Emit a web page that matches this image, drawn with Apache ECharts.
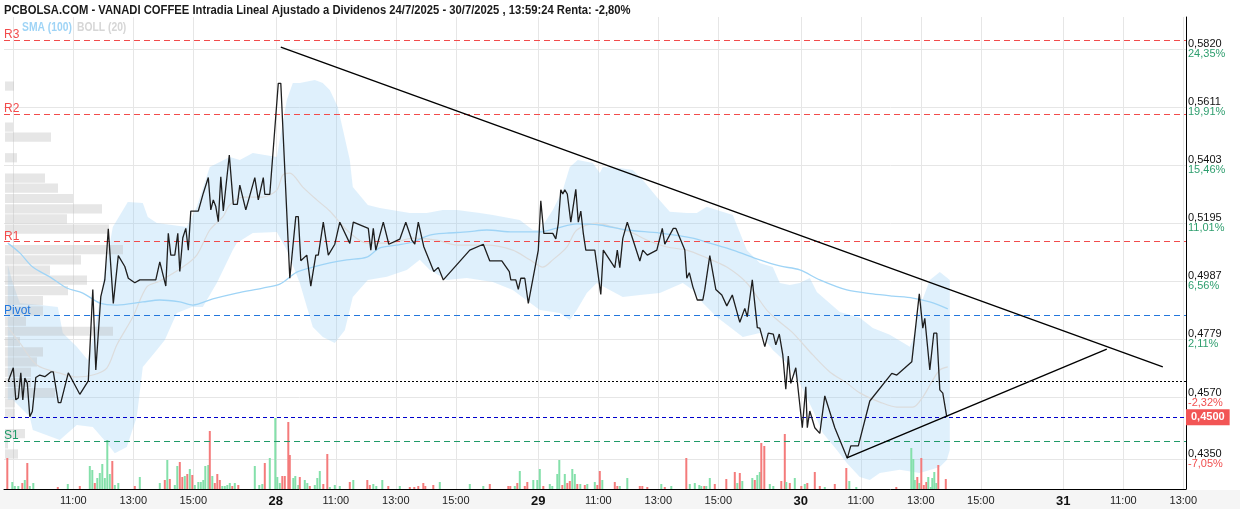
<!DOCTYPE html>
<html><head><meta charset="utf-8">
<script src="https://cdn.jsdelivr.net/npm/echarts@6/dist/echarts.min.js"></script>
<style>html,body{margin:0;padding:0;background:#fff}#c{width:1240px;height:512px}</style>
</head><body><div id="c"></div>
<script>
const FONT = '"Liberation Sans", Arial, sans-serif';
const TITLE = 'PCBOLSA.COM - VANADI COFFEE Intradia Lineal Ajustado a Dividenos 24/7/2025 - 30/7/2025 , 13:59:24 Renta: -2,80%';

// x = trading minutes since 25/7 09:00 (each session 09:00-17:45 = 525 min)
const xTickValues = [0,120,240,360,525,645,765,885,1050,1170,1290,1410,1575,1695,1815,1935,2100,2220,2340];
const xTickLabels = ['','11:00','13:00','15:00','28','11:00','13:00','15:00','29','11:00','13:00','15:00','30','11:00','13:00','15:00','31','11:00','13:00'];
const yTickValues = [0.4350,0.4570,0.4779,0.4987,0.5195,0.5403,0.5611,0.5820];
const yTickLabels = ['0,4350','0,4570','0,4779','0,4987','0,5195','0,5403','0,5611','0,5820'];
const yTickPct = ['-7,05%','-2,32%','2,11%','6,56%','11,01%','15,46%','19,91%','24,35%'];

const levels = {R3:0.5852, R2:0.5587, R1:0.5129, Pivot:0.4865, S1:0.4414};
const prevClose = 0.4629;
const lastPrice = 0.4500;

const price = [[-10,0.4630],[0,0.4677],[5,0.4562],[10,0.4569],[15,0.4659],[19,0.4562],[23,0.4640],[28,0.4622],[33,0.4502],[38,0.4520],
[45,0.4642],[53,0.4651],[63,0.4645],[75,0.4662],[80,0.4662],[90,0.4552],[95,0.4552],[110,0.4659],[133,0.4582],[150,0.4630],
[159,0.4958],[165,0.4669],[175,0.4932],[183,0.4992],[190,0.5175],[194,0.5175],[200,0.4908],[210,0.5079],[223,0.5040],[230,0.4998],
[243,0.4982],[253,0.4992],[285,0.4992],[293,0.5057],[305,0.4970],[310,0.5159],[315,0.5081],[323,0.5081],[329,0.5159],[333,0.5022],
[339,0.5143],[345,0.5177],[350,0.5099],[355,0.5239],[370,0.5239],[380,0.5303],[390,0.5359],[395,0.5243],[400,0.5279],[405,0.5255],
[410,0.5201],[415,0.5362],[420,0.5239],[432,0.5440],[440,0.5263],[448,0.5263],[453,0.5332],[465,0.5243],[483,0.5359],[490,0.5279],
[500,0.5359],[503,0.5299],[513,0.5299],[530,0.5697],[535,0.5697],[553,0.4998],[565,0.5219],[570,0.5219],[575,0.5061],[587,0.5081],
[590,0.5081],[595,0.4970],[605,0.5081],[610,0.5081],[620,0.5199],[630,0.5081],[643,0.5120],[653,0.5199],[673,0.5123],[680,0.5199],
[710,0.5177],[715,0.5099],[720,0.5177],[725,0.5099],[740,0.5199],[751,0.5120],[773,0.5138],[785,0.5199],[797,0.5135],[803,0.5120],
[810,0.5199],[821,0.5111],[841,0.5022],[850,0.5037],[860,0.4992],[913,0.5099],[940,0.5120],[953,0.5060],[977,0.5060],[992,0.5022],
[995,0.4992],[1005,0.4992],[1010,0.4958],[1015,0.4998],[1023,0.4998],[1030,0.4908],[1050,0.5099],[1055,0.5276],[1061,0.5159],[1079,0.5159],
[1085,0.5139],[1090,0.5195],[1095,0.5315],[1099,0.5300],[1103,0.5315],[1108,0.5300],[1115,0.5199],[1125,0.5317],[1130,0.5199],[1135,0.5239],
[1140,0.5159],[1145,0.5099],[1163,0.5099],[1175,0.4940],[1180,0.5099],[1203,0.5036],[1208,0.5099],[1213,0.5036],[1219,0.5141],[1228,0.5199],
[1253,0.5060],[1259,0.5099],[1268,0.5081],[1287,0.5099],[1298,0.5177],[1303,0.5120],[1320,0.5177],[1325,0.5177],[1343,0.5099],[1347,0.4998],
[1352,0.5018],[1359,0.4968],[1368,0.4920],[1379,0.4920],[1383,0.4958],[1393,0.5079],[1405,0.4958],[1417,0.4938],[1427,0.4899],[1438,0.4938],
[1453,0.4840],[1463,0.4890],[1468,0.4860],[1478,0.4992],[1488,0.4821],[1493,0.4819],[1503,0.4753],[1510,0.4801],[1520,0.4798],[1525,0.4759],
[1532,0.4798],[1539,0.4723],[1545,0.4600],[1550,0.4719],[1555,0.4621],[1565,0.4677],[1578,0.4462],[1585,0.4609],[1588,0.4462],[1593,0.4522],
[1603,0.4462],[1613,0.4442],[1623,0.4576],[1643,0.4462],[1668,0.4353],[1675,0.4397],[1690,0.4397],[1713,0.4558],[1757,0.4657],[1767,0.4651],
[1797,0.4699],[1812,0.4942],[1819,0.4819],[1823,0.4854],[1833,0.4669],[1841,0.4801],[1847,0.4801],[1853,0.4598],[1859,0.4586],[1867,0.4500]];

const sma100 = [[-11,0.5124],[13,0.5089],[39,0.5038],[73,0.5003],[107,0.4963],[139,0.4945],[173,0.4909],[207,0.4902],[259,0.4913],[293,0.4920],
[333,0.4913],[359,0.4902],[399,0.4924],[447,0.4945],[499,0.4963],[533,0.4977],[567,0.5020],[599,0.5038],[633,0.5053],[667,0.5064],
[707,0.5074],[733,0.5107],[767,0.5117],[799,0.5128],[833,0.5153],[867,0.5160],[907,0.5164],[947,0.5171],[999,0.5164],[1053,0.5164],
[1087,0.5178],[1127,0.5193],[1173,0.5189],[1227,0.5171],[1293,0.5160],[1359,0.5142],[1393,0.5124],[1439,0.5099],[1493,0.5064],[1533,0.5042],
[1573,0.5028],[1613,0.4992],[1667,0.4956],[1719,0.4942],[1759,0.4934],[1799,0.4927],[1833,0.4913],[1869,0.4888]];

const bollMid = [[-11,0.4823],[13,0.4766],[47,0.4687],[93,0.4658],[127,0.4644],[159,0.4651],[187,0.4676],[207,0.4759],[239,0.4859],[267,0.4967],
[293,0.4988],[339,0.5038],[367,0.5081],[393,0.5171],[419,0.5218],[433,0.5261],[459,0.5289],[499,0.5289],[527,0.5314],[539,0.5368],
[553,0.5375],[579,0.5325],[607,0.5279],[633,0.5239],[667,0.5171],[707,0.5124],[753,0.5124],[799,0.5142],[847,0.5135],[887,0.5117],
[947,0.5117],[999,0.5099],[1033,0.5064],[1059,0.5038],[1079,0.5064],[1107,0.5110],[1127,0.5171],[1167,0.5196],[1199,0.5182],[1239,0.5160],
[1267,0.5135],[1307,0.5110],[1347,0.5099],[1387,0.5071],[1427,0.5038],[1467,0.4981],[1507,0.4884],[1533,0.4841],[1559,0.4802],[1599,0.4723],
[1633,0.4662],[1667,0.4622],[1693,0.4587],[1733,0.4554],[1767,0.4536],[1799,0.4536],[1819,0.4572],[1839,0.4633],[1853,0.4669],[1869,0.4680]];

const bollUpper = [[-11,0.5046],[-1,0.4981],[13,0.4909],[53,0.4902],[89,0.4895],[99,0.4802],[127,0.4752],[149,0.4705],[163,0.4812],[179,0.4981],
[199,0.5182],[229,0.5271],[259,0.5268],[269,0.5218],[287,0.5196],[347,0.5182],[367,0.5254],[393,0.5397],[433,0.5433],[453,0.5422],
[479,0.5447],[527,0.5433],[547,0.5637],[559,0.5698],[573,0.5698],[603,0.5709],[619,0.5698],[633,0.5673],[649,0.5612],[673,0.5422],
[679,0.5325],[709,0.5261],[733,0.5250],[793,0.5232],[827,0.5232],[859,0.5243],[887,0.5243],[933,0.5232],[959,0.5225],[1013,0.5207],
[1039,0.5171],[1053,0.5171],[1079,0.5243],[1099,0.5314],[1113,0.5397],[1129,0.5422],[1159,0.5411],[1173,0.5375],[1179,0.5397],[1213,0.5393],
[1239,0.5386],[1259,0.5350],[1287,0.5289],[1313,0.5236],[1347,0.5232],[1367,0.5232],[1387,0.5254],[1407,0.5243],[1439,0.5225],[1467,0.5099],
[1493,0.5053],[1519,0.5038],[1533,0.4981],[1553,0.4974],[1573,0.4981],[1593,0.4999],[1607,0.4949],[1653,0.4877],[1693,0.4856],[1719,0.4820],
[1753,0.4795],[1793,0.4752],[1799,0.4777],[1813,0.4895],[1833,0.4992],[1853,0.5020],[1873,0.4992]];

const bollLower = [[-11,0.4562],[-1,0.4562],[33,0.4501],[39,0.4454],[93,0.4418],[127,0.4472],[159,0.4465],[187,0.4407],[203,0.4371],[227,0.4393],
[247,0.4501],[259,0.4680],[287,0.4741],[303,0.4777],[327,0.4873],[357,0.4895],[379,0.4895],[407,0.4981],[439,0.5099],[447,0.5124],
[479,0.5160],[527,0.5164],[547,0.5099],[573,0.4981],[599,0.4823],[619,0.4787],[643,0.4766],[663,0.4812],[679,0.4931],[709,0.4992],
[747,0.5003],[787,0.5028],[813,0.5064],[833,0.5028],[867,0.4992],[907,0.4999],[959,0.4985],[999,0.4956],[1053,0.4884],[1093,0.4873],
[1113,0.4848],[1127,0.4884],[1147,0.4945],[1167,0.4981],[1193,0.4956],[1219,0.4931],[1253,0.4938],[1293,0.4945],[1339,0.4981],[1359,0.4956],
[1379,0.4909],[1407,0.4859],[1433,0.4823],[1459,0.4787],[1493,0.4802],[1519,0.4741],[1547,0.4694],[1573,0.4622],[1599,0.4526],[1619,0.4443],
[1647,0.4382],[1667,0.4336],[1693,0.4285],[1713,0.4275],[1733,0.4300],[1773,0.4311],[1813,0.4300],[1853,0.4321],[1867,0.4346],[1873,0.4382]];

// [time, volume, direction (1 up / -1 down)]
const volumeBars = [[-12,31,-1],[-2,7,1],[3,3,1],[10,3,1],[18,6,-1],[23,9,1],[28,26,-1],[33,3,1],[40,6,1],[89,2,-1],[109,5,1],[133,3,-1],
[153,23,1],[158,19,1],[163,6,-1],[168,11,1],[173,16,1],[178,25,1],[183,11,1],[188,49,1],[193,15,1],[198,28,-1],[203,4,1],[210,6,1],
[243,3,-1],[253,12,1],[293,6,1],[303,9,-1],[308,29,1],[313,10,-1],[323,4,1],[328,23,1],[333,27,-1],[338,12,-1],[343,13,1],[348,15,-1],
[353,20,1],[358,14,-1],[363,4,1],[370,7,1],[375,7,1],[380,9,1],[384,23,1],[390,24,1],[393,58,-1],[398,13,1],[403,6,-1],[408,15,-1],
[413,9,-1],[418,3,1],[423,3,1],[428,4,1],[433,6,1],[438,3,-1],[443,6,1],[450,4,-1],[483,23,1],[492,4,1],[498,5,1],[503,26,-1],
[513,31,1],[524,71,1],[528,12,1],[533,6,1],[538,13,-1],[543,13,-1],[550,67,-1],[553,34,-1],[560,11,1],[564,13,1],[570,4,1],[573,12,-1],
[583,9,1],[588,6,1],[593,3,-1],[603,4,1],[608,11,1],[613,18,1],[620,5,-1],[628,35,-1],[633,2,1],[643,4,1],[653,3,1],[673,7,-1],
[680,9,1],[708,9,-1],[713,4,-1],[720,5,1],[726,3,1],[738,9,1],[750,3,-1],[773,3,1],[793,2,-1],[802,2,-1],[810,3,-1],[820,6,-1],
[824,3,-1],[840,4,-1],[853,7,1],[913,5,1],[940,3,1],[953,5,-1],[990,3,-1],[994,3,-1],[1003,3,1],[1008,6,-1],[1013,18,1],[1023,3,-1],
[1028,7,-1],[1040,9,1],[1048,9,1],[1053,20,1],[1060,3,-1],[1073,5,1],[1078,3,1],[1088,15,1],[1092,29,1],[1098,4,-1],[1103,15,1],[1108,6,-1],
[1113,8,-1],[1118,20,1],[1123,15,1],[1128,5,-1],[1134,5,1],[1143,4,-1],[1148,5,1],[1163,7,1],[1168,4,-1],[1173,18,-1],[1178,9,1],[1203,7,-1],
[1208,3,-1],[1213,3,1],[1228,11,1],[1253,3,-1],[1258,3,-1],[1268,2,-1],[1296,5,1],[1303,2,-1],[1316,3,1],[1346,31,-1],[1353,5,1],[1363,6,1],
[1372,4,1],[1376,3,1],[1382,3,-1],[1386,3,1],[1393,11,1],[1403,5,-1],[1426,10,-1],[1443,17,-1],[1448,6,1],[1453,16,-1],[1458,8,1],[1478,11,1],
[1483,9,-1],[1488,14,1],[1493,17,1],[1496,46,-1],[1502,43,-1],[1513,5,1],[1520,3,1],[1536,8,-1],[1543,55,-1],[1546,7,1],[1553,6,-1],[1563,11,1],
[1576,3,-1],[1583,5,1],[1588,6,-1],[1603,17,-1],[1613,3,-1],[1623,2,1],[1643,5,-1],[1666,21,-1],[1672,8,1],[1686,2,1],[1766,2,-1],[1796,41,1],
[1800,30,1],[1803,9,1],[1808,12,-1],[1812,6,1],[1816,31,-1],[1821,4,-1],[1826,7,-1],[1830,12,1],[1835,2,1],[1838,11,1],[1842,17,1],[1846,6,1],
[1850,24,-1],[1865,10,-1]];

// volume-by-price profile: [bin centre price, relative volume]
const profile = [[0.5687,9],[0.5540,8],[0.5504,46],[0.5430,12],[0.5357,40],[0.5321,53],[0.5284,68],[0.5247,97],[0.5211,62],[0.5174,104],
[0.5101,118],[0.5064,76],[0.5027,45],[0.4991,82],[0.4954,63],[0.4918,38],[0.4881,38],[0.4844,21],[0.4808,108],[0.4771,15],
[0.4734,38],[0.4698,32],[0.4661,26],[0.4624,26],[0.4588,50],[0.4551,10],[0.4514,10],[0.4441,20],[0.4404,3],[0.4368,13]];
const PROFILE_STEP = 0.003664;

const trendUpper = [[535,0.5827],[2299,0.4680]];
const trendLower = [[1667,0.4354],[2187,0.4744]];

const chart = echarts.init(document.getElementById('c'), null, {renderer:'canvas'});

function ml(val, color, dash, name){
  return {yAxis:val, lineStyle:{color:color, type:dash, width:1, opacity:1},
    label: name ? {show:true, position:'insideStartTop', formatter:name, color:color, fontSize:12, fontFamily:FONT, distance:[0,-1]} : {show:false}};
}

const option = {
  animation:false,
  backgroundColor:'#fff',
  grid:[
    {left:4, right:54, top:17, bottom:23},
    {left:4, right:54, height:100, bottom:23}
  ],
  xAxis:[
    {type:'value', gridIndex:0, min:-18.6, max:2345.4,
     axisLine:{show:true, onZero:false, lineStyle:{color:'#000', width:1}},
     axisTick:{show:false, customValues:xTickValues},
     splitLine:{show:true, lineStyle:{color:'#e6e6e6', width:1}},
     axisLabel:{customValues:xTickValues.slice(1), margin:6, color:'#222', fontSize:11, fontFamily:FONT,
       formatter:function(v){
         const i = xTickValues.indexOf(v);
         const s = i>=0 ? xTickLabels[i] : '';
         return s.indexOf(':')<0 && s ? '{d|'+s+'}' : s;
       },
       rich:{d:{fontSize:13, fontWeight:'bold', color:'#111', fontFamily:FONT}}}
    },
    {type:'value', gridIndex:1, min:-18.6, max:2345.4, show:false, splitLine:{show:false}},
    {type:'value', gridIndex:0, min:0, max:1182, show:false, splitLine:{show:false}}
  ],
  yAxis:[
    {type:'value', gridIndex:0, position:'right', min:0.42424, max:0.59347,
     axisLine:{show:true, onZero:false, lineStyle:{color:'#000', width:1}},
     axisTick:{show:false, customValues:yTickValues},
     splitLine:{show:true, lineStyle:{color:'#e6e6e6', width:1}},
     axisLabel:{customValues:yTickValues, margin:2, fontFamily:FONT,
       formatter:function(v){
         let i = yTickValues.findIndex(x=>Math.abs(x-v)<1e-7);
         if(i<0) return '';
         const neg = yTickPct[i].charAt(0)==='-';
         return '{p|'+yTickLabels[i]+'}\n{'+(neg?'r':'g')+'|'+yTickPct[i]+'}';
       },
       rich:{p:{fontSize:11, color:'#111', lineHeight:10, fontFamily:FONT},
             g:{fontSize:11, color:'#2e9e6e', lineHeight:10, fontFamily:FONT},
             r:{fontSize:11, color:'#f05050', lineHeight:10, fontFamily:FONT}}}
    },
    {type:'value', gridIndex:1, min:0, max:100, show:false, splitLine:{show:false}}
  ],
  graphic:[
    {type:'rect', z:-1, shape:{x:0, y:490, width:1240, height:19}, style:{fill:'#f5f5f5'}},
    {type:'text', x:4, y:4, scaleX:0.865, style:{text:TITLE, fill:'#1a1a1a', font:'bold 13px '+FONT}},
    {type:'text', x:22, y:22, scaleX:0.86, style:{text:'SMA (100)', fill:'#9fd4f6', font:'bold 12px '+FONT}},
    {type:'text', x:77, y:22, scaleX:0.86, style:{text:'BOLL (20)', fill:'#d6d6d6', font:'bold 12px '+FONT}}
  ],
  series:[
    {type:'custom', name:'bollBand', xAxisIndex:0, yAxisIndex:0, z:1, silent:true,
     data:[[bollUpper[0][0], bollUpper[0][1]]],
     renderItem:function(params, api){
       if(params.dataIndex!==0) return null;
       const pts = bollUpper.map(p=>api.coord(p)).concat(bollLower.slice().reverse().map(p=>api.coord(p)));
       return {type:'polygon', shape:{points:pts}, style:{fill:'rgba(150,205,245,0.30)'}};
     }},
    {type:'custom', name:'profile', xAxisIndex:2, yAxisIndex:0, z:2, silent:true,
     data:profile.map(p=>[p[1], p[0]]),
     renderItem:function(params, api){
       const vol = api.value(0), pr = api.value(1);
       const a = api.coord([0, pr + PROFILE_STEP/2]);
       const b = api.coord([vol, pr - PROFILE_STEP/2]);
       return {type:'rect', shape:{x:a[0]+1, y:a[1]+0.5, width:b[0]-a[0], height:b[1]-a[1]-1}, style:{fill:'rgba(185,185,185,0.36)'}};
     }},
    {type:'line', name:'BOLL mid', xAxisIndex:0, yAxisIndex:0, data:bollMid, symbol:'none', smooth:0.3, z:3,
     lineStyle:{color:'#dcdcdc', width:1.2}},
    {type:'line', name:'SMA (100)', xAxisIndex:0, yAxisIndex:0, data:sma100, symbol:'none', smooth:0.3, z:3,
     lineStyle:{color:'#9fd4f6', width:1.3}},
    {type:'bar', name:'Volumen', xAxisIndex:1, yAxisIndex:1, barWidth:2, z:3,
     data:volumeBars.map(v=>({value:[v[0], v[1]], itemStyle:{color: v[2]>0 ? '#84e0aa' : '#f47b7b'}}))},
    {type:'line', name:'Precio', xAxisIndex:0, yAxisIndex:0, data:price, symbol:'none', z:6,
     lineStyle:{color:'#1e1e1e', width:1.3},
     markLine:{symbol:'none', silent:true, animation:false, precision:4,
       data:[
         ml(levels.R3, '#f24b4b', [6,4], 'R3'),
         ml(levels.R2, '#f24b4b', [6,4], 'R2'),
         ml(levels.R1, '#f24b4b', [6,4], 'R1'),
         ml(levels.Pivot, '#2277dd', [6,4], 'Pivot'),
         ml(levels.S1, '#1f9a68', [6,4], 'S1'),
         ml(prevClose, '#000', [2,2], null),
         {yAxis:lastPrice, lineStyle:{color:'#0000cc', type:[4,3], width:1},
          label:{show:true, position:'end', distance:0, formatter:'0,4500', color:'#fff', backgroundColor:'#f25555',
                 padding:[3,5,2,5], fontSize:11, fontWeight:'bold', fontFamily:FONT}}
       ]}},
    {type:'line', name:'tendencia1', xAxisIndex:0, yAxisIndex:0, data:trendUpper, symbol:'none', z:7,
     lineStyle:{color:'#000', width:1.4}},
    {type:'line', name:'tendencia2', xAxisIndex:0, yAxisIndex:0, data:trendLower, symbol:'none', z:7,
     lineStyle:{color:'#000', width:1.4}}
  ]
};
chart.setOption(option);
</script>
</body></html>
